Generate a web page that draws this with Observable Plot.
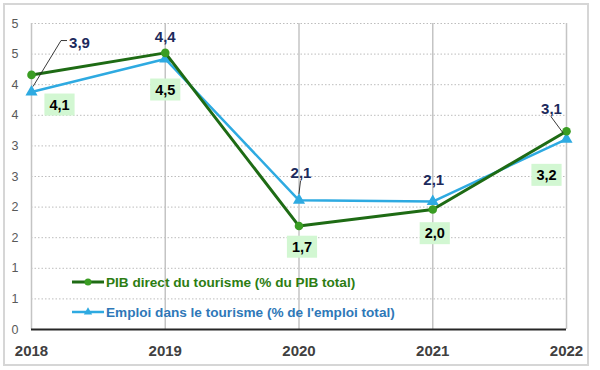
<!DOCTYPE html>
<html><head><meta charset="utf-8">
<script src="https://cdn.jsdelivr.net/npm/d3@7"></script>
<script src="https://cdn.jsdelivr.net/npm/@observablehq/plot@0.6"></script>
<style>body{margin:0;background:#fff} svg{display:block}</style>
</head><body><div id="chart"></div>
<script>
// ---- data ----
const years = [2018, 2019, 2020, 2021, 2022];
const pibValues = [4.16, 4.52, 1.69, 1.96, 3.24];
const emploiValues = [3.88, 4.42, 2.11, 2.09, 3.11];
const pibLabels = ["4,1", "4,5", "1,7", "2,0", "3,2"];
const emploiLabels = ["3,9", "4,4", "2,1", "2,1", "3,1"];
const yTicks = [0, 0.5, 1, 1.5, 2, 2.5, 3, 3.5, 4, 4.5, 5];
const seriesNames = ["PIB direct du tourisme (% du PIB total)", "Emploi dans le tourisme (% de l'emploi total)"];

// ---- styling config ----
const pibOffsets = [[28, 30], [0, 37], [3, 21], [2, 24], [-20, 44]];
const emploiOffsets = [[48, -49], [0, -22], [2, -27], [1, -21], [-15, -30]];
const emploiLeader = [true, false, true, false, true];
const C = {pibLine: "#1e6b14", pibDot: "#3a9d23", pibText: "#2d7d12", emp: "#2eaae1", empText: "#2e78b8", navy: "#1c2a5c", box: "#d2f7d2", boxText: "#000001"};

const pib = years.map((year, i) => ({year, value: pibValues[i], label: pibLabels[i]}));
const emploi = years.map((year, i) => ({year, value: emploiValues[i], label: emploiLabels[i]}));

const labelMarks = [];
years.forEach((yr, i) => {
  labelMarks.push(Plot.text([emploi[i]], {x: "year", y: "value", text: "label", dx: emploiOffsets[i][0], dy: emploiOffsets[i][1],
    fill: C.navy, fontSize: 15, fontWeight: "bold"}));
  labelMarks.push(Plot.text([pib[i]], {x: "year", y: "value", text: "label", dx: pibOffsets[i][0], dy: pibOffsets[i][1],
    fill: C.boxText, fontSize: 14.5, fontWeight: "bold"}));
});

const plot = Plot.plot({
  width: 600, height: 370,
  marginLeft: 31, marginRight: 34, marginTop: 23, marginBottom: 41,
  style: {fontFamily: "'Liberation Sans', Arial, sans-serif", background: "#fff", overflow: "visible"},
  x: {type: "linear", domain: [2018, 2022]},
  y: {domain: [0, 5]},
  marks: [
    Plot.gridY(yTicks.filter(v => v > 0), {stroke: "#bdbdbd", strokeOpacity: 1, strokeDasharray: "1.5,2", strokeWidth: 1}),
    Plot.gridX(years, {stroke: "#c4c4c4", strokeOpacity: 1, strokeWidth: 1.5}),
    Plot.ruleY([0], {stroke: "#262626", strokeWidth: 2}),
    Plot.axisY(yTicks, {tickSize: 0, tickPadding: 13, tickFormat: d => String(Math.round(d)), fill: "#595959", fontSize: 12.5, label: null}),
    Plot.axisX(years, {tickSize: 0, tickPadding: 16, tickFormat: d => String(d), fill: "#404040", fontSize: 15, fontWeight: "bold", label: null}),
    Plot.line(emploi, {x: "year", y: "value", stroke: C.emp, strokeWidth: 2.5}),
    Plot.dot(emploi, {x: "year", y: "value", symbol: "triangle", r: 4.5, fill: C.emp}),
    Plot.line(pib, {x: "year", y: "value", stroke: C.pibLine, strokeWidth: 3}),
    Plot.dot(pib, {x: "year", y: "value", r: 4.3, fill: C.pibDot}),
    ...labelMarks
  ]
});
document.getElementById("chart").appendChild(plot);

const svg = d3.select(plot);
const sx = plot.scale("x"), sy = plot.scale("y");

// boxes behind PIB labels
svg.selectAll("text").filter(function() {
  return getComputedStyle(this).fill === "rgb(0, 0, 1)";
}).each(function() {
  const bb = this.getBBox();
  const padX = 5, padY = 3;
  const r = document.createElementNS("http://www.w3.org/2000/svg", "rect");
  r.setAttribute("x", bb.x - padX);
  r.setAttribute("y", bb.y - padY);
  r.setAttribute("width", bb.width + 2 * padX);
  r.setAttribute("height", bb.height + 2 * padY);
  const t = this.getAttribute("transform");
  if (t) r.setAttribute("transform", t);
  r.setAttribute("fill", C.box);
  r.setAttribute("stroke", "none");
  this.parentNode.insertBefore(r, this);
});

// leader lines for Emploi labels
const leaders = svg.append("g").attr("fill", "none").attr("stroke", "#222").attr("stroke-width", 0.9);
emploi.forEach((d, i) => {
  if (!emploiLeader[i]) return;
  const px = sx.apply(d.year), py = sy.apply(d.value);
  const lx = px + emploiOffsets[i][0], ly = py + emploiOffsets[i][1];
  let pts;
  if (Math.abs(emploiOffsets[i][0]) > 20) {
    pts = [[px + 2, py - 5], [lx - 18, ly - 2], [lx - 12, ly - 2]];
  } else {
    const ex = px - lx, ey = py - ly;
    const len = Math.hypot(ex, ey);
    pts = [[lx, ly + 8], [px - ex / len * 6, py - ey / len * 6]];
  }
  leaders.append("path").attr("d", d3.line()(pts));
});

// legend
const legend = svg.append("g").attr("font-family", "'Liberation Sans', Arial, sans-serif").attr("font-size", 13.6).attr("font-weight", "bold").attr("text-anchor", "start");
[[C.pibLine, C.pibDot, C.pibText, "circle", 282], [C.emp, C.emp, C.empText, "triangle", 312]].forEach(([lc, mc, tc, sym, y], i) => {
  legend.append("line").attr("x1", 72).attr("x2", 104).attr("y1", y).attr("y2", y).attr("stroke", lc).attr("stroke-width", i ? 2.5 : 3);
  if (sym === "circle") legend.append("circle").attr("cx", 88).attr("cy", y).attr("r", 3.5).attr("fill", mc);
  else legend.append("path").attr("d", d3.symbol(d3.symbolTriangle, 30)()).attr("transform", `translate(88,${y})`).attr("fill", mc);
  legend.append("text").attr("x", 106).attr("y", y).attr("dy", "0.36em").attr("text-anchor", "start").attr("fill", tc).text(seriesNames[i]);
});

// outer frame
svg.append("rect").attr("x", 4).attr("y", 4).attr("width", 584).attr("height", 361)
  .attr("fill", "none").attr("stroke", "#d6d6d6").attr("stroke-width", 2);
</script>
</body></html>
